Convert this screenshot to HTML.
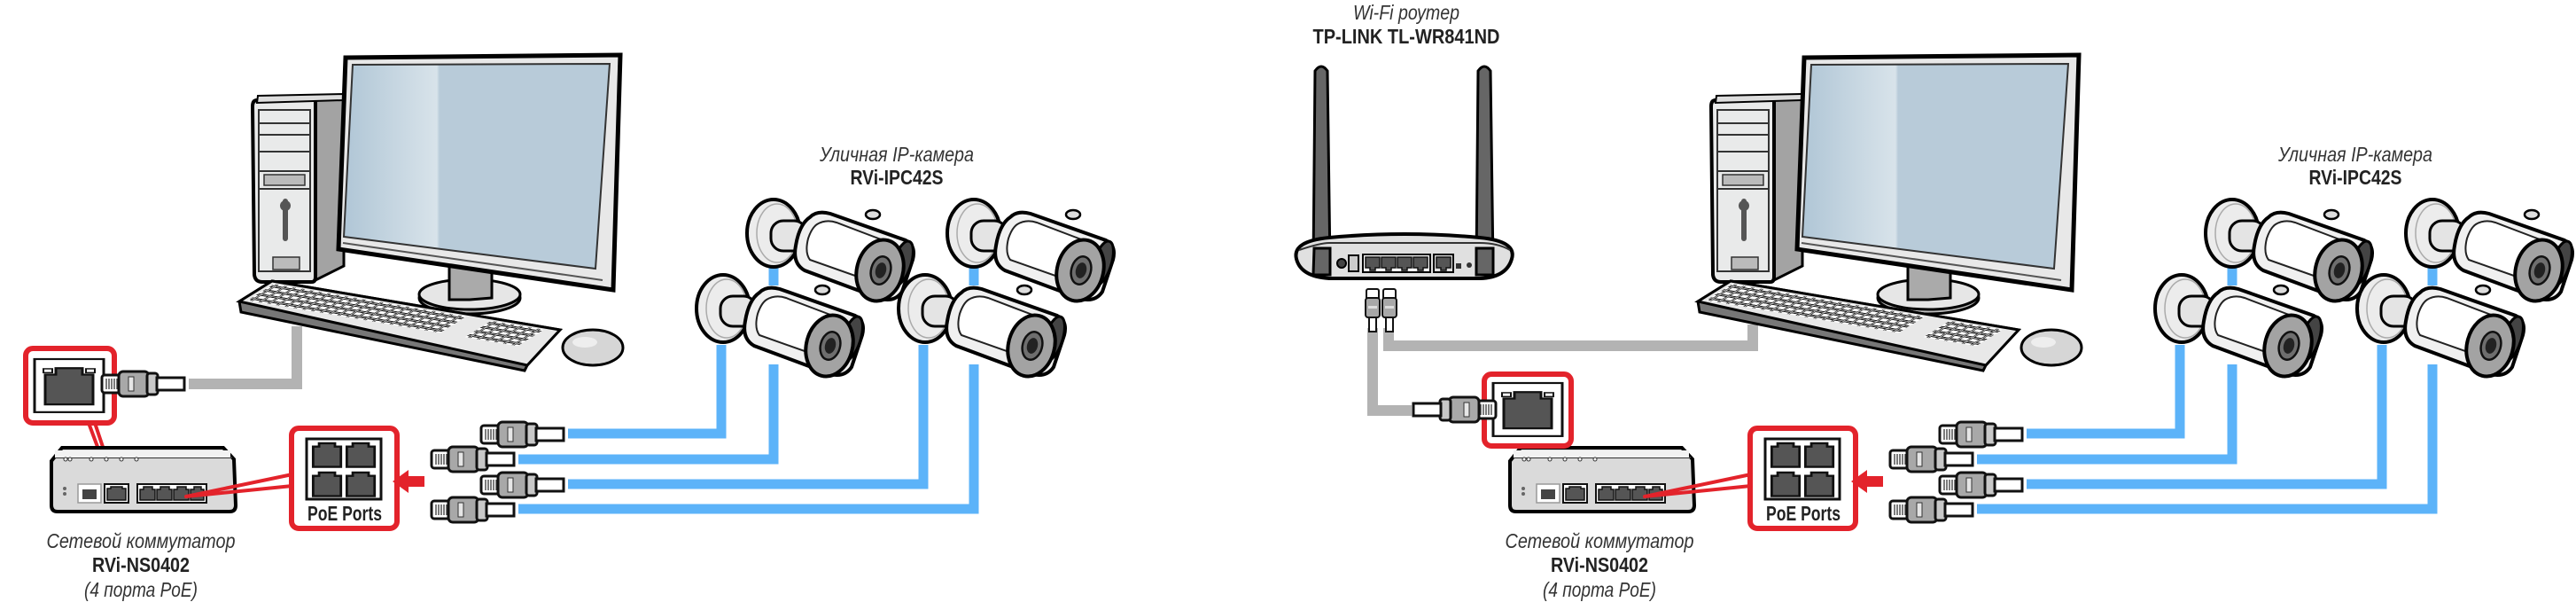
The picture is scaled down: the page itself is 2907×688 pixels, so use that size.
<!DOCTYPE html>
<html><head><meta charset="utf-8"><style>
html,body{margin:0;padding:0;background:#fff;}
svg{display:block;}
.it{font-family:"Liberation Sans Narrow","Liberation Sans",sans-serif;font-style:italic;fill:#333;font-size:23px;}
.bd{font-family:"Liberation Sans Narrow","Liberation Sans",sans-serif;font-weight:bold;fill:#222;font-size:23px;}
</style></head><body>
<svg width="2907" height="688" viewBox="0 0 2907 688" xmlns="http://www.w3.org/2000/svg">
<defs>
  <pattern id="keys" width="10" height="6" patternUnits="userSpaceOnUse">
    <rect x="0.8" y="0.8" width="8" height="4.4" fill="#fff" stroke="#111" stroke-width="1"/>
  </pattern>
  <linearGradient id="scr" x1="0" y1="0" x2="1" y2="0">
    <stop offset="0" stop-color="#b0c6d6"/><stop offset="0.35" stop-color="#d8e3ea"/><stop offset="0.36" stop-color="#b8cbd9"/><stop offset="1" stop-color="#b8cbd9"/>
  </linearGradient>
  <g id="plug">
    <rect x="1" y="5" width="22" height="20" rx="3" fill="#fff" stroke="#111" stroke-width="3"/>
    <path d="M6 9v12M9 9v12M12 9v12M15 9v12M18 9v12" stroke="#444" stroke-width="1.4"/>
    <rect x="20" y="1" width="34" height="28" rx="5" fill="#a8a8a8" stroke="#111" stroke-width="3"/>
    <rect x="31" y="7" width="6" height="16" fill="#e6e6e6" stroke="#333" stroke-width="1"/>
    <rect x="52" y="3" width="12" height="24" rx="3" fill="#c8c8c8" stroke="#111" stroke-width="3"/>
    <rect x="63" y="8" width="31" height="14" fill="#fff" stroke="#111" stroke-width="3"/>
  </g>
  <g id="vplug">
    <rect x="1" y="1" width="14" height="12" rx="2" fill="#fff" stroke="#111" stroke-width="2"/>
    <rect x="0" y="11" width="16" height="22" rx="3" fill="#a8a8a8" stroke="#111" stroke-width="2"/>
    <rect x="3" y="20" width="10" height="3" fill="#ddd"/>
    <rect x="4" y="33" width="8" height="16" fill="#fff" stroke="#111" stroke-width="2"/>
  </g>
  <g id="jack">
    <rect x="0" y="0" width="78" height="82" fill="#fff" stroke="#111" stroke-width="3"/>
    <path d="M12 24 H24 V14 H54 V24 H66 V70 H12 Z" fill="#555" stroke="#111" stroke-width="3"/>
    <rect x="10" y="15" width="10" height="6" fill="#fff" stroke="#111" stroke-width="2"/>
    <rect x="58" y="15" width="10" height="6" fill="#fff" stroke="#111" stroke-width="2"/>
  </g>
  <g id="port">
    <path d="M3 6 H9 V2 H25 V6 H31 V30 H3 Z" fill="#555" stroke="#111" stroke-width="2.5"/>
  </g>
  <g id="cam">
    <ellipse cx="31" cy="38" rx="30" ry="38" fill="#ececec" stroke="#000" stroke-width="4"/>
    <ellipse cx="35" cy="38" rx="23" ry="33" fill="none" stroke="#aaa" stroke-width="1.5"/>
    <rect x="28" y="24" width="40" height="34" rx="14" fill="#e4e4e4" stroke="#000" stroke-width="3"/>
    <path d="M72 20 Q80 12 95 16 L180 46 Q192 52 188 68 L176 104 Q168 116 152 112 L66 80 Q52 72 56 52 Q60 28 72 20 Z" fill="#f0f0f0" stroke="#000" stroke-width="4"/>
    <path d="M80 28 Q90 22 102 26 L160 48 L140 92 L72 68 Q66 60 70 44 Q74 32 80 28 Z" fill="#fff" stroke="#222" stroke-width="2"/>
    <ellipse cx="143" cy="17" rx="8" ry="5" fill="#ddd" stroke="#000" stroke-width="2.5"/>
    <ellipse cx="176" cy="72" rx="10" ry="26" transform="rotate(18 176 72)" fill="#444" stroke="#000" stroke-width="3"/>
    <ellipse cx="151" cy="80" rx="26" ry="35" transform="rotate(15 151 80)" fill="#a3a3a3" stroke="#000" stroke-width="4"/>
    <ellipse cx="152" cy="80" rx="11" ry="16" transform="rotate(15 152 80)" fill="#6e6e6e" stroke="#111" stroke-width="2.5"/>
    <ellipse cx="152" cy="80" rx="6" ry="9" transform="rotate(15 152 80)" fill="#222"/>
  </g>
  <g id="pc">
    <path d="M352 113 L388 112 L388 300 L352 318 Z" fill="#a3a3a3" stroke="#000" stroke-width="3"/>
    <path d="M290 113 Q285 113 285 120 L287 310 Q288 318 296 318 L352 318 Q356 318 356 312 L356 113 Z" fill="#e9eaea" stroke="#000" stroke-width="4"/>
    <path d="M291 108 L388 106 L388 113 L290 116 Z" fill="#ddd" stroke="#000" stroke-width="2"/>
    <rect x="292" y="124" width="58" height="182" fill="none" stroke="#333" stroke-width="2"/>
    <path d="M292 139 H350 M292 152 H350 M292 171 H350 M292 193 H350 M292 213 H350" stroke="#333" stroke-width="2"/>
    <rect x="298" y="197" width="46" height="12" fill="#bbb" stroke="#333" stroke-width="1.5"/>
    <circle cx="322" cy="232" r="6" fill="#555"/><rect x="319" y="224" width="6" height="48" rx="3" fill="#555"/>
    <rect x="308" y="290" width="30" height="14" fill="#bbb" stroke="#333" stroke-width="1.5"/>
    <ellipse cx="530" cy="336" rx="57" ry="18" fill="#bbb" stroke="#000" stroke-width="3"/>
    <ellipse cx="530" cy="332" rx="57" ry="17" fill="#e6e6e6" stroke="#000" stroke-width="3"/>
    <path d="M507 300 H555 V336 L530 338 H507 Z" fill="#aaa" stroke="#000" stroke-width="3"/>
    <path d="M390 65 L700 62 L692 327 L382 281 Z" fill="#e8e8e8" stroke="#000" stroke-width="5"/>
    <path d="M398 73 L688 72 L672 303 L388 267 Z" fill="url(#scr)" stroke="#333" stroke-width="2"/>
    <path d="M387 274 L680 316" stroke="#555" stroke-width="2"/>
    <path d="M270 340 L307 317 L632 372 L595 412 L592 418 L272 352 Z" fill="#777" stroke="#000" stroke-width="3"/>
    <path d="M270 340 L307 317 L632 372 L595 412 Z" fill="#e8e8e8" stroke="#000" stroke-width="3"/>
    <g transform="matrix(0.985,0.1667,-1.233,0.767,307,317)">
      <rect x="6" y="3" width="220" height="24" fill="url(#keys)"/>
      <rect x="255" y="3" width="60" height="24" fill="url(#keys)"/>
    </g>
    <ellipse cx="669" cy="392" rx="34" ry="20" fill="#d6d6d6" stroke="#000" stroke-width="3"/>
    <ellipse cx="660" cy="386" rx="14" ry="6" fill="#eee"/>
  </g>
  <g id="sw">
    <path d="M70 505 L252 505 L264 518 L266 570 Q266 577 259 577 L65 577 Q58 577 58 570 L58 520 Z" fill="#dadada" stroke="#000" stroke-width="4"/>
    <path d="M62 516 L262 516" stroke="#333" stroke-width="2"/>
    <rect x="62" y="508" width="198" height="8" fill="#f2f2f2"/>
    <g fill="#fff" stroke="#333" stroke-width="1"><circle cx="74" cy="518" r="2"/><circle cx="79" cy="518" r="2"/><circle cx="103" cy="518" r="2"/><circle cx="120" cy="518" r="2"/><circle cx="137" cy="518" r="2"/><circle cx="154" cy="518" r="2"/></g>
    <circle cx="73" cy="551" r="2" fill="#666"/><circle cx="73" cy="557" r="2" fill="#666"/>
    <rect x="88" y="546" width="26" height="21" fill="#fff" stroke="#999" stroke-width="1.5"/>
    <rect x="93" y="552" width="16" height="11" fill="#444"/>
    <rect x="118" y="546" width="27" height="21" fill="#fff" stroke="#111" stroke-width="2"/>
    <path d="M121 551 H125 V549 H138 V551 H142 V564 H121 Z" fill="#555" stroke="#111" stroke-width="1.5"/>
    <rect x="155" y="546" width="78" height="21" fill="#fff" stroke="#111" stroke-width="2"/>
    <g fill="#555" stroke="#111" stroke-width="1.5">
      <path d="M158 552 H162 V549 H172 V552 H175 V564 H158 Z"/><path d="M177 552 H181 V549 H191 V552 H194 V564 H177 Z"/>
      <path d="M196 552 H200 V549 H210 V552 H213 V564 H196 Z"/><path d="M215 552 H219 V549 H227 V552 H230 V564 H215 Z"/>
    </g>
  </g>
  <g id="poe">
    <rect x="329" y="483" width="119" height="113" rx="8" fill="#fff" stroke="#e3232b" stroke-width="6"/>
    <rect x="346" y="495" width="84" height="68" fill="#fff" stroke="#111" stroke-width="3"/>
    <use href="#port" transform="translate(350,498) scale(1.12,0.95)"/>
    <use href="#port" transform="translate(388,498) scale(1.12,0.95)"/>
    <use href="#port" transform="translate(350,531) scale(1.12,0.95)"/>
    <use href="#port" transform="translate(388,531) scale(1.12,0.95)"/>
    <text x="389" y="587" class="bd" text-anchor="middle" font-size="22" textLength="84" lengthAdjust="spacingAndGlyphs">PoE Ports</text>
    <path d="M210 560 L330 535 L330 548 Z" fill="none" stroke="#e3232b" stroke-width="4" stroke-linejoin="round"/>
    <path d="M443 543 L461 530 L461 537 L479 537 L479 549 L461 549 L461 556 Z" fill="#e3232b"/>
  </g>
  <g id="camset">
    <path d="M641 489 H814 V389 M585 518 H873 V411 M641 546 H1042 V389 M585 574 H1099 V411 M873 302 V322 M1099 302 V322" fill="none" stroke="#5cb3f9" stroke-width="11"/>
    <use href="#plug" x="542" y="475"/>
    <use href="#plug" x="486" y="503"/>
    <use href="#plug" x="542" y="532"/>
    <use href="#plug" x="486" y="560"/>
    <use href="#cam" x="842" y="225"/>
    <use href="#cam" x="1068" y="225"/>
    <use href="#cam" x="785" y="310"/>
    <use href="#cam" x="1013" y="310"/>
  </g>
</defs>

<path d="M335 368 V433 H213" fill="none" stroke="#b3b3b3" stroke-width="12"/>
<use href="#pc"/>
<path d="M100 477 L128 552 M107 477 L132 552" stroke="#e3232b" stroke-width="4"/>
<use href="#sw"/>
<rect x="29" y="393" width="100" height="84" rx="8" fill="#fff" stroke="#e3232b" stroke-width="6"/>
<use href="#jack" transform="translate(39,405) scale(1,0.73)"/>
<use href="#plug" x="114" y="418"/>
<use href="#poe"/>
<use href="#camset"/>
<text x="1012" y="182" class="it" text-anchor="middle" textLength="174" lengthAdjust="spacingAndGlyphs">Уличная IP-камера</text>
<text x="1012" y="208" class="bd" text-anchor="middle" textLength="105" lengthAdjust="spacingAndGlyphs">RVi-IPC42S</text>
<text x="159" y="618" class="it" text-anchor="middle" textLength="213" lengthAdjust="spacingAndGlyphs">Сетевой коммутатор</text>
<text x="159" y="645" class="bd" text-anchor="middle" textLength="110" lengthAdjust="spacingAndGlyphs">RVi-NS0402</text>
<text x="159" y="673" class="it" text-anchor="middle" textLength="128" lengthAdjust="spacingAndGlyphs">(4 порта PoE)</text>

<path d="M1567 370 V390 H1978 V366" fill="none" stroke="#b3b3b3" stroke-width="12"/>
<path d="M1549 370 V463 H1593" fill="none" stroke="#b3b3b3" stroke-width="12"/>
<g transform="translate(1646,0)">
  <use href="#pc"/>
  <path d="M86 502 L125 552 M93 502 L130 552" stroke="#e3232b" stroke-width="4"/>
  <use href="#sw"/>
  <rect x="29" y="422" width="98" height="81" rx="8" fill="#fff" stroke="#e3232b" stroke-width="6"/>
  <use href="#jack" transform="translate(39,432) scale(1,0.73)"/>
  <use href="#poe"/>
  <use href="#camset"/>
</g>
<use href="#plug" transform="translate(1689,447) scale(-1,1)"/>
<path d="M1482 300 L1484 80 Q1491 70 1498 80 L1501 300 Z" fill="#666" stroke="#000" stroke-width="3"/>
<path d="M1666 300 L1668 80 Q1675 70 1682 80 L1685 300 Z" fill="#666" stroke="#000" stroke-width="3"/>
<path d="M1463 292 Q1458 272 1500 268 Q1585 260 1670 268 Q1712 272 1706 292 Q1700 313 1670 314 L1500 314 Q1468 312 1463 292 Z" fill="#e0e0e0" stroke="#000" stroke-width="4"/>
<path d="M1466 282 Q1490 274 1500 274 L1670 274 Q1690 274 1704 282" fill="none" stroke="#333" stroke-width="2"/>
<path d="M1482 310 L1483 280 L1501 280 L1501 310 Z M1666 310 L1666 280 L1685 280 L1685 310 Z" fill="#666" stroke="#000" stroke-width="3"/>
<circle cx="1514" cy="297" r="5" fill="#444" stroke="#000" stroke-width="2"/>
<rect x="1522" y="288" width="11" height="18" fill="#ccc" stroke="#000" stroke-width="2"/>
<rect x="1538" y="287" width="76" height="20" fill="#fff" stroke="#000" stroke-width="2"/>
<g fill="#555" stroke="#111" stroke-width="1.5">
<path d="M1541 290 H1557 V302 H1552 V305 H1546 V302 H1541 Z"/><path d="M1559 290 H1575 V302 H1570 V305 H1564 V302 H1559 Z"/>
<path d="M1577 290 H1593 V302 H1588 V305 H1582 V302 H1577 Z"/><path d="M1595 290 H1611 V302 H1606 V305 H1600 V302 H1595 Z"/>
<path d="M1621 290 H1637 V302 H1632 V305 H1626 V302 H1621 Z"/>
</g>
<rect x="1618" y="287" width="22" height="20" fill="none" stroke="#000" stroke-width="2"/>
<rect x="1643" y="297" width="6" height="6" fill="#333"/>
<circle cx="1658" cy="299" r="3" fill="#333"/>
<use href="#vplug" x="1541" y="325"/>
<use href="#vplug" x="1560" y="325"/>
<text x="1587" y="22" class="it" text-anchor="middle" textLength="120" lengthAdjust="spacingAndGlyphs">Wi-Fi роутер</text>
<text x="1587" y="49" class="bd" text-anchor="middle" textLength="211" lengthAdjust="spacingAndGlyphs">TP-LINK TL-WR841ND</text>
<text x="2658" y="182" class="it" text-anchor="middle" textLength="174" lengthAdjust="spacingAndGlyphs">Уличная IP-камера</text>
<text x="2658" y="208" class="bd" text-anchor="middle" textLength="105" lengthAdjust="spacingAndGlyphs">RVi-IPC42S</text>
<text x="1805" y="618" class="it" text-anchor="middle" textLength="213" lengthAdjust="spacingAndGlyphs">Сетевой коммутатор</text>
<text x="1805" y="645" class="bd" text-anchor="middle" textLength="110" lengthAdjust="spacingAndGlyphs">RVi-NS0402</text>
<text x="1805" y="673" class="it" text-anchor="middle" textLength="128" lengthAdjust="spacingAndGlyphs">(4 порта PoE)</text>
</svg>
</body></html>
